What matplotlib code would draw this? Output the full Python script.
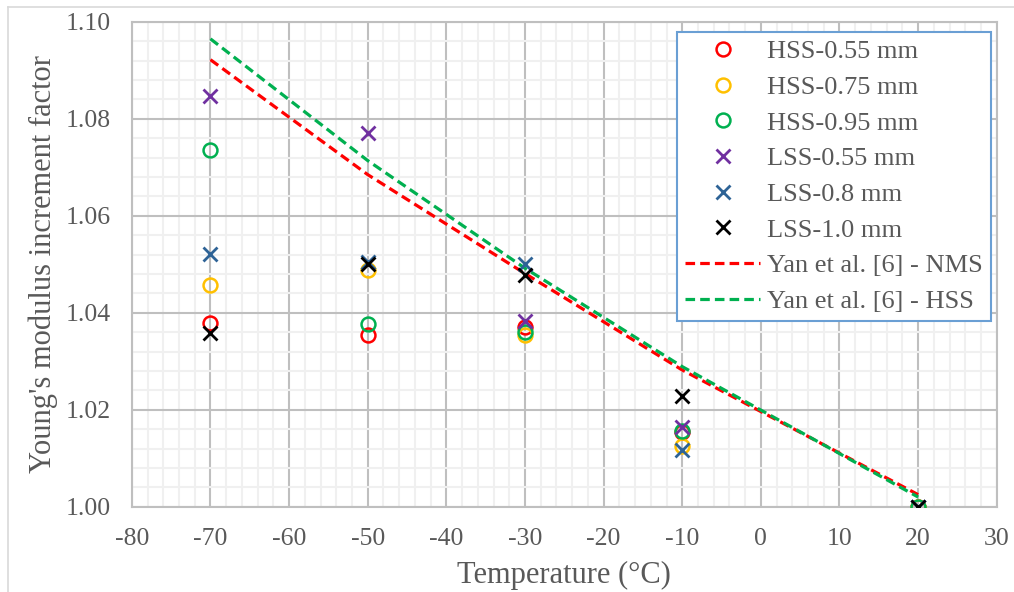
import matplotlib
matplotlib.use("Agg")
import matplotlib.pyplot as plt
from matplotlib.lines import Line2D
from matplotlib.ticker import MultipleLocator

plt.rcParams["font.family"] = ["Liberation Serif", "DejaVu Serif"]
plt.rcParams["axes.unicode_minus"] = False

# === data ===
temps = [-70, -50, -30, -10, 20]
hss_055 = [1.0380, 1.0355, 1.0371, 1.0155, 1.0000]
hss_075 = [1.0457, 1.0489, 1.0354, 1.0126, 1.0000]
hss_095 = [1.0735, 1.0376, 1.0361, 1.0156, 1.0000]
lss_055 = [1.0848, 1.0770, 1.0383, 1.0165, 1.0000]
lss_08 = [1.0522, 1.0505, 1.0500, 1.0117, 1.0000]
lss_10 = [1.0358, 1.0500, 1.0479, 1.0229, 1.0000]
yan_nms = [1.0922, 1.0685, 1.0481, 1.0282, 1.0025]
yan_hss = [1.0965, 1.0714, 1.0492, 1.0289, 1.0020]

series = [
    ("HSS-0.55 mm", hss_055, "o", "#FF0000"),
    ("HSS-0.75 mm", hss_075, "o", "#FFC000"),
    ("HSS-0.95 mm", hss_095, "o", "#00B050"),
    ("LSS-0.55 mm", lss_055, "x", "#7030A0"),
    ("LSS-0.8 mm", lss_08, "x", "#2E6396"),
    ("LSS-1.0 mm", lss_10, "x", "#000000"),
]

fig = plt.figure(figsize=(10.14, 5.92), dpi=100)
ax = fig.add_axes([0.130, 0.144, 0.853, 0.819])

# chart area outline (only top/left visible in the original)
fig.add_artist(Line2D([8 / 1014, 8 / 1014], [0, 1 - 7 / 592], color="#D9D9D9", lw=1.2))
fig.add_artist(Line2D([8 / 1014, 1], [1 - 7 / 592, 1 - 7 / 592], color="#D9D9D9", lw=1.2))

for label, vals, m, c in series:
    if m == "o":
        ax.plot(temps, vals, linestyle="none", marker="o", markersize=10,
                markerfacecolor="none", markeredgecolor=c, markeredgewidth=1.8,
                label=label, zorder=3)
    else:
        ax.plot(temps, vals, linestyle="none", marker="x", markersize=10,
                markeredgecolor=c, markeredgewidth=2.0, label=label, zorder=4)

ax.plot(temps, yan_nms, color="#FF0000", lw=2.3, dashes=(3, 1.6),
        label="Yan et al. [6] - NMS", zorder=2)
ax.plot(temps, yan_hss, color="#00B050", lw=2.3, dashes=(3, 1.6),
        label="Yan et al. [6] - HSS", zorder=2)

ax.set_xlim(-80, 30)
ax.set_ylim(1.0, 1.1)
ax.xaxis.set_major_locator(MultipleLocator(10))
ax.xaxis.set_minor_locator(MultipleLocator(2))
ax.yaxis.set_major_locator(MultipleLocator(0.02))
ax.yaxis.set_minor_locator(MultipleLocator(0.004))
ax.yaxis.set_major_formatter(lambda v, p: f"{v:.2f}")
ax.grid(which="minor", color="#F0F0F0", lw=1.5, zorder=0)
ax.grid(which="major", color="#BFBFBF", lw=1.5, zorder=1)
ax.set_axisbelow(True)
for s in ax.spines.values():
    s.set_color("#BFBFBF")
    s.set_linewidth(1.5)
ax.tick_params(which="both", length=0, labelsize=18.5, colors="#595959", pad=15)

ax.set_xlabel("Temperature (°C)", fontsize=22, color="#595959", labelpad=8)
ax.set_ylabel("Young's modulus increment factor", fontsize=22, color="#595959", labelpad=6)

leg = ax.legend(loc="upper right", bbox_to_anchor=(0.993, 0.979), fontsize=19,
                frameon=True, fancybox=False, framealpha=1, edgecolor="#6A9FD4",
                labelcolor="#595959", handlelength=2.85, handletextpad=0.25,
                labelspacing=0.46, borderpad=0.3, borderaxespad=0)
leg.get_frame().set_linewidth(1.5)

fig.savefig("out.png", dpi=100)
